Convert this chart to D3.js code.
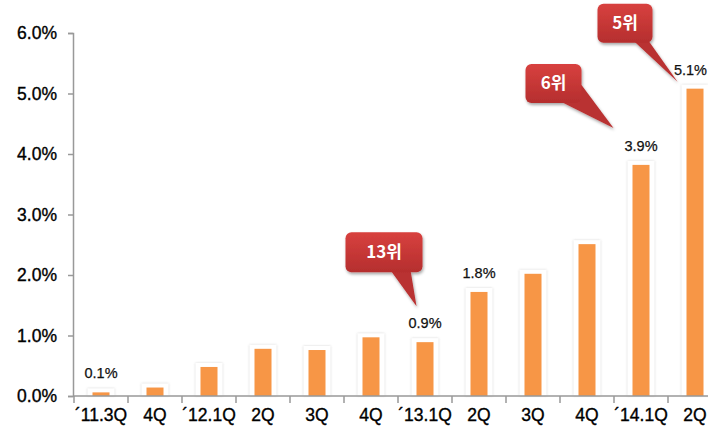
<!DOCTYPE html>
<html>
<head>
<meta charset="utf-8">
<script src="https://cdn.jsdelivr.net/npm/d3@7/dist/d3.min.js"></script>
<style>
  html, body { margin: 0; padding: 0; background: #fff; }
  svg { display: block; }
</style>
</head>
<body>
<svg id="chart" width="708" height="438"></svg>
<script>
// ---- data ----
const categories = ["\u00B411.3Q", "4Q", "\u00B412.1Q", "2Q", "3Q", "4Q", "\u00B413.1Q", "2Q", "3Q", "4Q", "\u00B414.1Q", "2Q"];
const values = [0.06, 0.14, 0.48, 0.78, 0.76, 0.97, 0.89, 1.72, 2.02, 2.51, 3.82, 5.08];
const valueLabels = ["0.1%", "", "", "", "", "", "0.9%", "1.8%", "", "", "3.9%", "5.1%"];
const yTicks = [0, 1, 2, 3, 4, 5, 6];
const rankLabels = ["13위", "6위", "5위"];
const rankIndex = [6, 10, 11];

// ---- layout (not data) ----
const calloutLayout = [
  { tdx: -8.5, tdy: -36, w: 77, h: 40, rx: 6, ry: -34, base: [[-32, 0], [-12, 0]] },
  { tdx: -27.5, tdy: -37, w: 56, h: 39, rx: -32, ry: -25, base: [[-22, 0], [0, -16]] },
  { tdx: -17.5, tdy: -7, w: 55, h: 39, rx: -25, ry: -39, base: [[-19, 0], [-4, 0]] }
];

const svg = d3.select("#chart");
const W = 708;
const x = d3.scaleBand().domain(d3.range(categories.length)).range([74, 722]).paddingInner(0.685).paddingOuter(0.3425);
const y = d3.scaleLinear().domain([0, 6]).range([396, 33]);
const step = x.step(), bw = x.bandwidth();

const defs = svg.append("defs");
const glow = defs.append("filter").attr("id", "glow").attr("x", "-50%").attr("y", "-20%").attr("width", "200%").attr("height", "140%");
glow.append("feDropShadow").attr("dx", 0).attr("dy", 0).attr("stdDeviation", 1.2).attr("flood-color", "#999").attr("flood-opacity", 0.45);
const shadow = defs.append("filter").attr("id", "shadow").attr("x", "-20%").attr("y", "-20%").attr("width", "150%").attr("height", "150%");
shadow.append("feDropShadow").attr("dx", 1).attr("dy", 2).attr("stdDeviation", 1.5).attr("flood-color", "#000").attr("flood-opacity", 0.35);
const grad = defs.append("linearGradient").attr("id", "redgrad").attr("x1", 0).attr("y1", 0).attr("x2", 0).attr("y2", 1);
grad.append("stop").attr("offset", "0%").attr("stop-color", "#d8413f");
grad.append("stop").attr("offset", "100%").attr("stop-color", "#b52e2e");

const FONT = "Liberation Sans, Arial, sans-serif";

// bar glow (white frame with gray halo)
svg.append("g").selectAll("rect").data(values).join("rect")
  .attr("x", (d, i) => x(i) - 5)
  .attr("y", d => y(d) - 4)
  .attr("width", bw + 10)
  .attr("height", d => y(0) - y(d) + 4)
  .attr("fill", "#fff")
  .attr("filter", "url(#glow)");

// axes
const yAxis = svg.append("g").attr("transform", "translate(73,0)")
  .call(d3.axisLeft(y).tickValues(yTicks).tickFormat(d => d.toFixed(1) + "%").tickSize(5).tickPadding(11));
yAxis.select(".domain").attr("stroke", "#999").attr("stroke-width", 1.5);
yAxis.selectAll(".tick line").attr("stroke", "#999").attr("stroke-width", 1.5);
yAxis.selectAll("text").attr("font-family", FONT).attr("font-size", 17.5).attr("fill", "#000")
  .attr("stroke", "#000").attr("stroke-width", 0.35);

// bars
svg.append("g").selectAll("rect").data(values).join("rect")
  .attr("x", (d, i) => x(i))
  .attr("y", d => y(d))
  .attr("width", bw)
  .attr("height", d => y(0) - y(d))
  .attr("fill", "#f79646");

const xAxis = svg.append("g").attr("transform", "translate(0,396)")
  .call(d3.axisBottom(x).tickFormat(i => categories[i]).tickSize(0).tickPadding(13));
xAxis.select(".domain").attr("d", "M73,0H708").attr("stroke", "#999").attr("stroke-width", 1.5);
xAxis.selectAll("text").attr("font-family", FONT).attr("font-size", 17.5).attr("fill", "#000")
  .attr("stroke", "#000").attr("stroke-width", 0.35);
// boundary ticks
svg.append("g").selectAll("line").data(d3.range(categories.length)).join("line")
  .attr("x1", i => x(i) + bw / 2 - step / 2).attr("x2", i => x(i) + bw / 2 - step / 2)
  .attr("y1", 396).attr("y2", 403)
  .attr("stroke", "#999").attr("stroke-width", 1.5);

// value labels (kept inside the visible width)
svg.append("g").selectAll("text").data(values).join("text")
  .attr("x", (d, i) => x(i) + bw / 2)
  .attr("y", d => y(d) - 14)
  .attr("text-anchor", "middle")
  .attr("font-family", FONT)
  .attr("font-size", 14.5)
  .attr("fill", "#111")
  .attr("stroke", "#111").attr("stroke-width", 0.25)
  .text((d, i) => valueLabels[i])
  .each(function (d, i) {
    const len = this.getComputedTextLength();
    const cx = x(i) + bw / 2;
    if (cx + len / 2 > W - 1) d3.select(this).attr("x", W - 1 - len / 2);
  });

// callouts
rankLabels.forEach((lab, k) => {
  const i = rankIndex[k], L = calloutLayout[k];
  const tx = x(i) + bw / 2 + L.tdx, ty = y(values[i]) + L.tdy;
  const right = tx + L.rx, bottom = ty + L.ry;
  const left = right - L.w, top = bottom - L.h;
  const g = svg.append("g").attr("filter", "url(#shadow)");
  g.append("path")
    .attr("d", `M${right + L.base[0][0]},${bottom + L.base[0][1] - 2}L${tx},${ty}L${right + L.base[1][0]},${bottom + L.base[1][1] - 2}Z`)
    .attr("fill", "#b93030");
  g.append("rect").attr("x", left).attr("y", top).attr("width", L.w).attr("height", L.h)
    .attr("rx", 6).attr("fill", "url(#redgrad)");
  svg.append("text")
    .attr("x", (left + right) / 2).attr("y", (top + bottom) / 2 + 6)
    .attr("text-anchor", "middle")
    .attr("font-family", "Noto Sans CJK KR, Noto Sans, sans-serif")
    .attr("font-weight", "bold")
    .attr("font-size", 17)
    .attr("fill", "#fff")
    .text(lab);
});
</script>
</body>
</html>
